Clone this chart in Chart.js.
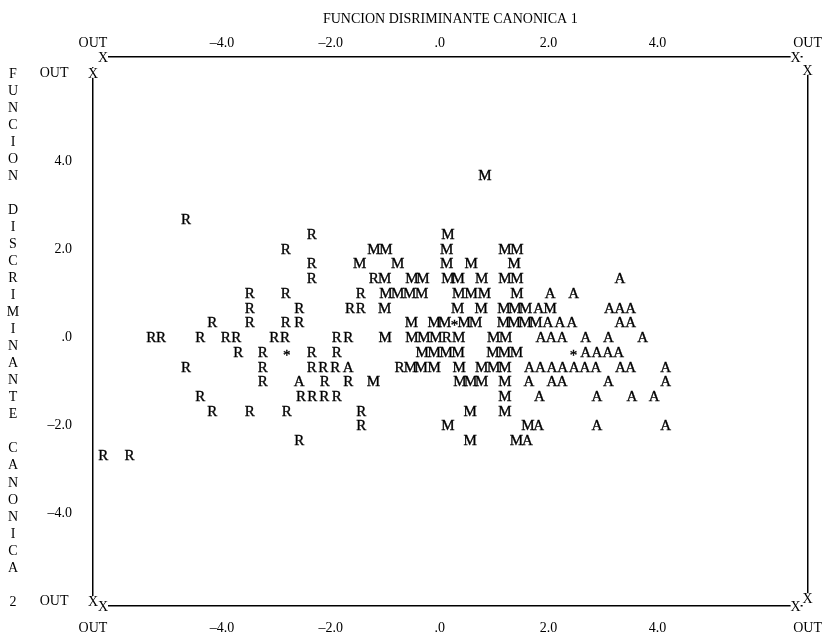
<!DOCTYPE html>
<html>
<head>
<meta charset="utf-8">
<script src="https://cdn.jsdelivr.net/npm/chart.js@4.4.1/dist/chart.umd.min.js"></script>
<style>
  html, body { margin: 0; padding: 0; background: #fff; }
  #wrap { width: 828px; height: 641px; }
</style>
</head>
<body>
<div id="wrap"><canvas id="plot" width="828" height="641"></canvas></div>
<script>
// titulos y ejes
const X_TITLE = 'FUNCION DISRIMINANTE CANONICA 1';
const Y_TITLE = 'FUNCION DISCRIMINANTE CANONICA 2';
const X_TICKS = [-4, -2, 0, 2, 4];
const Y_TICKS = [-6, -4, -2, 0, 2, 4, 6];
const X_MIN = -6.37, X_MAX = 6.76;
const Y_MIN = -6.11, Y_MAX = 6.36;

// grupo R  [funcion 1, funcion 2]
const groupR = [
  [-4.66, 2.67],
  [-2.35, 2.33],
  [-2.83, 2.0],
  [-2.35, 1.67],
  [-2.35, 1.33], [-1.21, 1.33],
  [-3.49, 1.0], [-2.83, 1.0], [-1.45, 1.0],
  [-3.49, 0.67], [-2.58, 0.67], [-1.65, 0.67], [-1.45, 0.67],
  [-4.18, 0.33], [-3.49, 0.33], [-2.83, 0.33], [-2.58, 0.33],
  [-5.30, 0], [-5.12, 0], [-4.40, 0], [-3.93, 0], [-3.74, 0], [-3.04, 0], [-2.84, 0], [-1.89, 0], [-1.68, 0], [0.13, 0],
  [-3.70, -0.33], [-3.25, -0.33], [-2.35, -0.33], [-1.89, -0.33],
  [-4.66, -0.67], [-3.25, -0.67], [-2.35, -0.67], [-2.14, -0.67], [-1.92, -0.67], [-0.74, -0.67],
  [-3.25, -1.0], [-2.11, -1.0], [-1.68, -1.0],
  [-4.40, -1.33], [-2.55, -1.33], [-2.34, -1.33], [-2.12, -1.33], [-1.89, -1.33],
  [-4.18, -1.67], [-3.49, -1.67], [-2.81, -1.67], [-1.44, -1.67],
  [-1.44, -2.0],
  [-2.58, -2.33],
  [-6.18, -2.67], [-5.70, -2.67]
];

// grupo M
const groupM = [
  [0.83, 3.67],
  [0.15, 2.33],
  [-1.21, 2.0], [-0.99, 2.0], [0.13, 2.0], [1.20, 2.0], [1.42, 2.0],
  [-1.47, 1.67], [-0.77, 1.67], [0.13, 1.67], [0.58, 1.67], [1.37, 1.67],
  [-1.01, 1.33], [-0.51, 1.33], [-0.31, 1.33], [0.15, 1.33], [0.34, 1.33], [0.77, 1.33], [1.20, 1.33], [1.42, 1.33],
  [-0.99, 1.0], [-0.77, 1.0], [-0.55, 1.0], [-0.33, 1.0], [0.35, 1.0], [0.58, 1.0], [0.82, 1.0], [1.42, 1.0],
  [-1.01, 0.67], [0.33, 0.67], [0.76, 0.67], [1.18, 0.67], [1.38, 0.67], [1.58, 0.67], [2.03, 0.67],
  [-0.52, 0.33], [-0.10, 0.33], [0.09, 0.33], [0.45, 0.33], [0.66, 0.33], [1.17, 0.33], [1.37, 0.33], [1.57, 0.33], [1.77, 0.33],
  [-1.00, 0], [-0.51, 0], [-0.29, 0], [-0.07, 0], [0.35, 0], [0.99, 0], [1.21, 0],
  [-0.32, -0.33], [-0.10, -0.33], [0.12, -0.33], [0.34, -0.33], [0.98, -0.33], [1.19, -0.33], [1.41, -0.33],
  [-0.54, -0.67], [-0.34, -0.67], [-0.10, -0.67], [0.36, -0.67], [0.77, -0.67], [0.99, -0.67], [1.20, -0.67],
  [-1.22, -1.0], [0.37, -1.0], [0.57, -1.0], [0.77, -1.0], [1.20, -1.0],
  [1.20, -1.33],
  [0.56, -1.67], [1.20, -1.67],
  [0.15, -2.0], [1.62, -2.0],
  [0.56, -2.33], [1.41, -2.33]
];

// grupo A
const groupA = [
  [3.31, 1.33],
  [2.03, 1.0], [2.46, 1.0],
  [1.82, 0.67], [3.12, 0.67], [3.31, 0.67], [3.51, 0.67],
  [1.99, 0.33], [2.21, 0.33], [2.43, 0.33], [3.31, 0.33], [3.51, 0.33],
  [1.86, 0], [2.05, 0], [2.25, 0], [2.68, 0], [3.10, 0], [3.73, 0],
  [2.68, -0.33], [2.89, -0.33], [3.09, -0.33], [3.29, -0.33],
  [-1.68, -0.67], [1.65, -0.67], [1.85, -0.67], [2.06, -0.67], [2.26, -0.67], [2.47, -0.67], [2.67, -0.67], [2.87, -0.67], [3.32, -0.67], [3.51, -0.67], [4.15, -0.67],
  [-2.58, -1.0], [1.64, -1.0], [2.06, -1.0], [2.25, -1.0], [3.10, -1.0], [4.15, -1.0],
  [1.83, -1.33], [2.89, -1.33], [3.53, -1.33], [3.94, -1.33],
  [1.82, -2.0], [2.89, -2.0], [4.15, -2.0],
  [1.61, -2.33]
];

// centroides (*)
const centroids = [
  [0.27, 0.33], [-2.81, -0.33], [2.46, -0.33]
];

const FONT = '"Liberation Serif", "Times New Roman", serif';

function toPts(arr) {
  return arr.map(p => ({ x: p[0], y: p[1] }));
}

function fmt(v) {
  if (v === 0) return '.0';
  return (v < 0 ? '\u2013' : '') + Math.abs(v).toFixed(1);
}

// cada punto se pinta con la letra de su grupo
const glyphLayer = {
  id: 'glyphLayer',
  afterDatasetsDraw(chart) {
    const ctx = chart.ctx;
    ctx.save();
    ctx.font = '15px ' + FONT;
    ctx.fillStyle = '#000';
    ctx.strokeStyle = '#000';
    ctx.lineWidth = 0.35;
    ctx.textAlign = 'center';
    ctx.textBaseline = 'alphabetic';
    chart.data.datasets.forEach((ds, i) => {
      const meta = chart.getDatasetMeta(i);
      const dy = ds.label === '*' ? 8 : 5;
      meta.data.forEach(pt => {
        ctx.fillText(ds.label, pt.x, pt.y + dy);
        ctx.strokeText(ds.label, pt.x, pt.y + dy);
      });
    });
    ctx.restore();
  }
};

const frameMarks = {
  id: 'frameMarks',
  afterDraw(chart) {
    const { ctx, chartArea } = chart;
    const { left, right, top, bottom } = chartArea;
    const yS = chart.scales.y;
    const yTop = yS.getPixelForValue(6), yBot = yS.getPixelForValue(-6);
    ctx.save();
    // quitar esquinas
    ctx.fillStyle = '#fff';
    ctx.fillRect(left - 3, top - 3, 8, 13);
    ctx.fillRect(right - 5, top - 3, 8, 13);
    ctx.fillRect(left - 3, bottom - 10, 8, 13);
    ctx.fillRect(right - 5, bottom - 10, 8, 13);
    ctx.font = '14px ' + FONT;
    ctx.textAlign = 'center';
    ctx.textBaseline = 'middle';
    const marks = [
      [left, yTop], [left + 10, top],
      [right - 12, top], [right, yTop - 3],
      [left, yBot], [left + 10, bottom],
      [right - 12, bottom], [right, yBot - 3]
    ];
    marks.forEach(([mx, my]) => {
      ctx.fillStyle = '#fff';
      ctx.fillRect(mx - 5, my - 5, 10, 10);
      ctx.fillStyle = '#000';
      ctx.fillText('X', mx, my + 1);
    });
    // titulo vertical, letra por letra
    const step = (yBot - yTop) / (Y_TITLE.length - 1);
    for (let i = 0; i < Y_TITLE.length; i++) {
      ctx.fillText(Y_TITLE[i], 13, yTop + i * step + 1);
    }
    ctx.restore();
  }
};

const tickFont = { family: FONT, size: 14 };

function xScale(pos) {
  return {
    type: 'linear',
    position: pos,
    min: X_MIN,
    max: X_MAX,
    grid: { display: false },
    border: { display: true, color: '#000', width: 1.5 },
    afterBuildTicks: s => { s.ticks = [X_MIN, ...X_TICKS, X_MAX].map(v => ({ value: v })); },
    ticks: {
      autoSkip: false,
      maxRotation: 0,
      color: '#000',
      font: tickFont,
      padding: pos === 'top' ? -3 : 6,
      callback: v => (v === X_MIN || v === X_MAX) ? 'OUT' : fmt(v)
    },
    afterFit: s => { s.height = pos === 'top' ? 57 : 35; }
  };
}

const cfg = {
  type: 'scatter',
  data: {
    datasets: [
      { label: 'R', data: toPts(groupR) },
      { label: 'M', data: toPts(groupM) },
      { label: 'A', data: toPts(groupA) },
      { label: '*', data: toPts(centroids) }
    ]
  },
  options: {
    responsive: false,
    animation: false,
    devicePixelRatio: 1,
    layout: { padding: 0 },
    elements: { point: { radius: 0, hoverRadius: 0 } },
    plugins: { legend: { display: false }, tooltip: { enabled: false } },
    scales: {
      x: xScale('bottom'),
      x2: Object.assign(xScale('top'), {
        title: { display: true, text: X_TITLE, color: '#000', font: tickFont, padding: { top: 11, bottom: 0 } }
      }),
      y: {
        type: 'linear',
        position: 'left',
        min: Y_MIN,
        max: Y_MAX,
        grid: { display: false },
        border: { display: true, color: '#000', width: 1.5 },
        afterBuildTicks: s => { s.ticks = Y_TICKS.map(v => ({ value: v })); },
        ticks: {
          autoSkip: false,
          color: '#000',
          font: tickFont,
          padding: 13,
          callback: v => Math.abs(v) === 6 ? 'OUT ' : fmt(v)
        },
        afterFit: s => { s.width = 93; }
      },
      y2: {
        type: 'linear',
        position: 'right',
        min: Y_MIN,
        max: Y_MAX,
        grid: { display: false },
        border: { display: true, color: '#000', width: 1.5 },
        ticks: { display: false },
        afterFit: s => { s.width = 16; }
      }
    }
  },
  plugins: [glyphLayer, frameMarks]
};

new Chart(document.getElementById('plot'), cfg);
</script>
</body>
</html>
